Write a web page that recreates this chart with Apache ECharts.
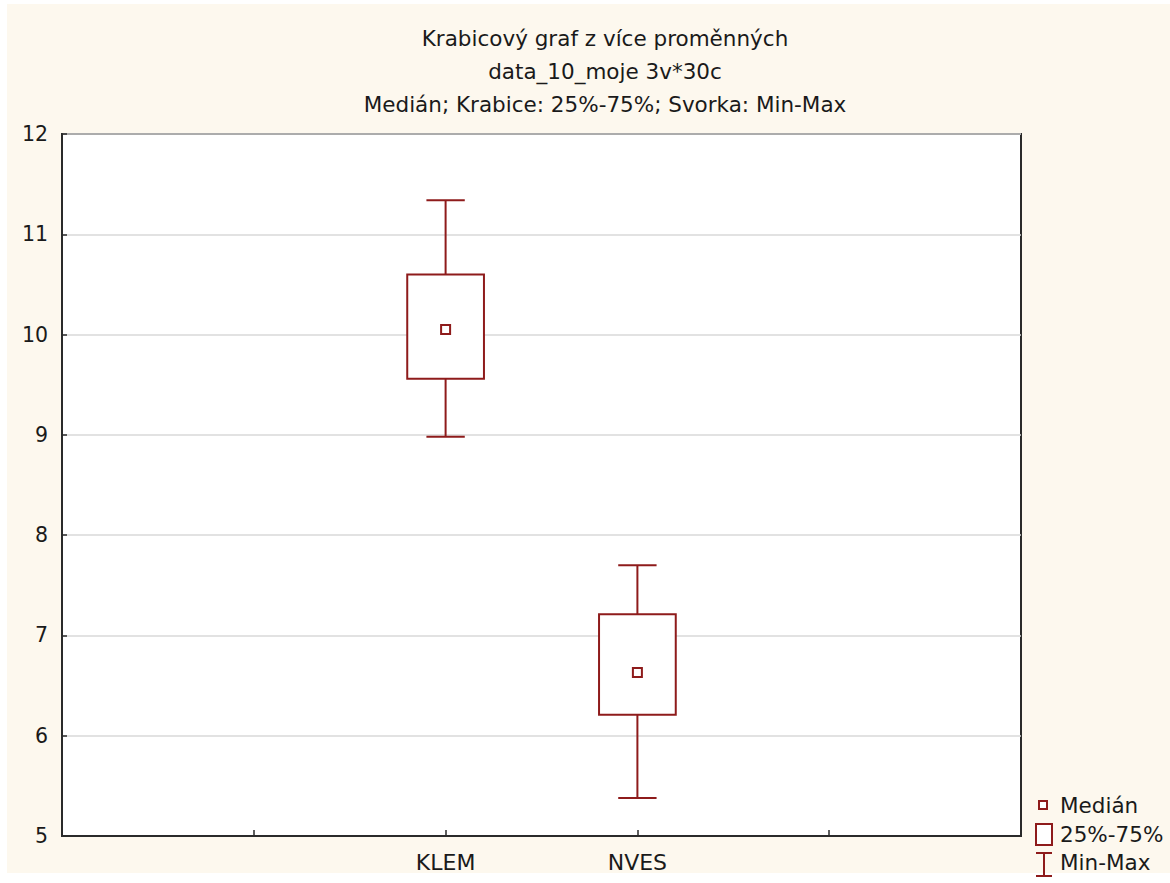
<!DOCTYPE html>
<html>
<head>
<meta charset="utf-8">
<style>
html,body{margin:0;padding:0;background:#ffffff;}
#chart{width:1170px;height:883px;}
</style>
<script src="https://cdn.jsdelivr.net/npm/echarts@6/dist/echarts.min.js"></script>
</head>
<body>
<div id="chart"></div>
<script>
// ---- data ----
var xSlots = ['', '', 'KLEM', 'NVES', '', ''];
var categories = ['KLEM', 'NVES'];
var mins    = [8.98, 5.38];
var q1s     = [9.56, 6.21];
var medians = [10.05, 6.63];
var q3s     = [10.60, 7.21];
var maxs    = [11.34, 7.70];
var yTicks  = [5, 6, 7, 8, 9, 10, 11, 12];
var titleLines = ['Krabicový graf z více proměnných', 'data_10_moje 3v*30c', 'Medián; Krabice: 25%-75%; Svorka: Min-Max'];
var legendNames = ['Medián', '25%-75%', 'Min-Max'];

var RED = '#8e1b1b';
var FONT = 'DejaVu Sans';
var TXT = '#1a1a1a';

var boxData = categories.map(function (c, i) { return [c, q1s[i], q3s[i]]; });
var whiskerData = categories.map(function (c, i) { return [c, mins[i], q1s[i], q3s[i], maxs[i]]; });
var medianData = categories.map(function (c, i) { return [c, medians[i]]; });

var chart = echarts.init(document.getElementById('chart'), null, {renderer: 'svg'});

var option = {
  backgroundColor: '#ffffff',
  animation: false,
  title: {
    text: titleLines.join('\n'),
    left: 600,
    top: 17,
    textAlign: 'center',
    textStyle: {fontFamily: FONT, fontSize: 21.5, fontWeight: 'normal', color: TXT, lineHeight: 33}
  },
  grid: {
    left: 62, top: 134, right: 149, bottom: 47,
    show: true, backgroundColor: '#ffffff', borderColor: '#2a2a2a', borderWidth: 2
  },
  xAxis: {
    type: 'category',
    data: xSlots,
    boundaryGap: false,
    axisLine: {show: true, lineStyle: {color: '#2a2a2a', width: 2}},
    axisTick: {show: true, inside: true, length: 6, interval: 0, lineStyle: {color: '#2a2a2a', width: 1.5}},
    axisLabel: {interval: 0, margin: 15, fontFamily: FONT, fontSize: 22, color: TXT},
    splitLine: {show: false}
  },
  yAxis: {
    type: 'value',
    min: yTicks[0], max: yTicks[yTicks.length - 1], interval: 1,
    axisLine: {show: true, lineStyle: {color: '#2a2a2a', width: 2}},
    axisTick: {show: true, inside: true, length: 5, lineStyle: {color: '#2a2a2a', width: 1.5}},
    axisLabel: {margin: 14, fontFamily: FONT, fontSize: 20.5, color: TXT},
    splitLine: {show: true, lineStyle: {color: '#d9d9d9', width: 1.5}}
  },
  series: [
    {
      name: legendNames[2],
      type: 'custom',
      data: whiskerData,
      encode: {x: 0, y: [1, 2, 3, 4]},
      renderItem: function (params, api) {
        var xi = api.value(0);
        var pMin = api.coord([xi, api.value(1)]);
        var pQ1 = api.coord([xi, api.value(2)]);
        var pQ3 = api.coord([xi, api.value(3)]);
        var pMax = api.coord([xi, api.value(4)]);
        var band = api.size([1, 0])[0];
        var cap = band * 0.1;
        var st = {stroke: RED, lineWidth: 2, fill: null};
        return {
          type: 'group',
          children: [
            {type: 'line', shape: {x1: pMin[0], y1: pMin[1], x2: pQ1[0], y2: pQ1[1]}, style: st},
            {type: 'line', shape: {x1: pQ3[0], y1: pQ3[1], x2: pMax[0], y2: pMax[1]}, style: st},
            {type: 'line', shape: {x1: pMin[0] - cap, y1: pMin[1], x2: pMin[0] + cap, y2: pMin[1]}, style: st},
            {type: 'line', shape: {x1: pMax[0] - cap, y1: pMax[1], x2: pMax[0] + cap, y2: pMax[1]}, style: st}
          ]
        };
      }
    },
    {
      name: legendNames[1],
      type: 'custom',
      data: boxData,
      encode: {x: 0, y: [1, 2]},
      renderItem: function (params, api) {
        var xi = api.value(0);
        var pQ1 = api.coord([xi, api.value(1)]);
        var pQ3 = api.coord([xi, api.value(2)]);
        var band = api.size([1, 0])[0];
        var half = band * 0.2;
        return {
          type: 'rect',
          shape: {x: pQ1[0] - half, y: pQ3[1], width: half * 2, height: pQ1[1] - pQ3[1]},
          style: {stroke: RED, lineWidth: 2, fill: '#ffffff'}
        };
      }
    },
    {
      name: legendNames[0],
      type: 'scatter',
      data: medianData,
      symbol: 'rect',
      symbolSize: 9,
      itemStyle: {color: '#ffffff', borderColor: RED, borderWidth: 2, opacity: 1},
      z: 5
    }
  ],
  graphic: [
    {type: 'rect', z: -10, silent: true, shape: {x: 7, y: 4, width: 1163, height: 869}, style: {fill: '#fdf8ee'}},
    // legend icons
    {type: 'rect', shape: {x: 1039, y: 801, width: 8, height: 8}, style: {fill: '#ffffff', stroke: RED, lineWidth: 2}},
    {type: 'rect', shape: {x: 1036, y: 824, width: 16, height: 21}, style: {fill: '#ffffff', stroke: RED, lineWidth: 2}},
    {type: 'line', shape: {x1: 1044, y1: 853, x2: 1044, y2: 876}, style: {stroke: RED, lineWidth: 2}},
    {type: 'line', shape: {x1: 1036, y1: 853, x2: 1052, y2: 853}, style: {stroke: RED, lineWidth: 2}},
    {type: 'line', shape: {x1: 1036, y1: 876, x2: 1052, y2: 876}, style: {stroke: RED, lineWidth: 2}},
    {type: 'text', x: 1060, y: 805, style: {text: legendNames[0], fontFamily: FONT, fontSize: 21.5, fill: TXT, verticalAlign: 'middle'}},
    {type: 'text', x: 1060, y: 834, style: {text: legendNames[1], fontFamily: FONT, fontSize: 21.5, fill: TXT, verticalAlign: 'middle'}},
    {type: 'text', x: 1060, y: 862, style: {text: legendNames[2], fontFamily: FONT, fontSize: 21.5, fill: TXT, verticalAlign: 'middle'}}
  ]
};
chart.setOption(option);
</script>
</body>
</html>
